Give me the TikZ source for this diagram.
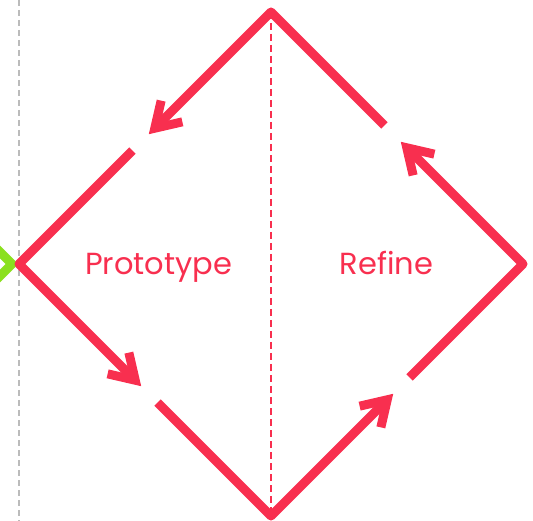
\documentclass[tikz,border=0pt]{standalone}
\usepackage{fontspec}
\setmainfont{Poppins}
\usetikzlibrary{arrows.meta,calc}
\definecolor{cred}{RGB}{248,47,79}
\definecolor{cgreen}{RGB}{139,224,30}
\definecolor{cgray}{RGB}{187,187,187}
\tikzset{
  edge/.style={draw=cred, line width=9pt, line join=round, -{Straight Barb[length=24pt,width=30pt]}},
  greenedge/.style={draw=cgreen, line width=9pt, line join=miter},
  axis/.style={draw=cgray, line width=1.6pt, dash pattern=on 6pt off 4pt},
  midline/.style={draw=cred, line width=1.4pt, dash pattern=on 7pt off 4pt},
  label/.style={text=cred, font=\fontsize{30.5}{36}\selectfont, anchor=base}
}
\begin{document}
\begin{tikzpicture}[x=1pt,y=-1pt]
\useasboundingbox (0,0) rectangle (533,521);
\coordinate (T) at (271,12);
\coordinate (L) at (19,264);
\coordinate (B) at (271,516);
\coordinate (R) at (523,264);
\coordinate (G) at (12,264);
\coordinate (Ga) at (-28,224);
\coordinate (Gb) at (-28,304);
\coordinate (A0) at (19,0);
\coordinate (A1) at (19,521);
% left axis and green chevron
\draw[axis] (A0) -- (A1);
\draw[greenedge] (Ga) -- (G) -- (Gb);
% centre dashed line
\draw[midline] (T) -- (B);
% diamond with arrows
\draw[edge] ($(R)!0.55!(T)$) -- (T) -- ($(T)!0.485!(L)$);
\draw[edge] ($(T)!0.55!(L)$) -- (L) -- ($(L)!0.485!(B)$);
\draw[edge] ($(L)!0.55!(B)$) -- (B) -- ($(B)!0.485!(R)$);
\draw[edge] ($(B)!0.55!(R)$) -- (R) -- ($(R)!0.485!(T)$);
% labels
\node[label] (proto) at (158.5,275) {Prototype};
\node[label] (refine) at (386.7,275) {Refine};
\end{tikzpicture}
\end{document}
